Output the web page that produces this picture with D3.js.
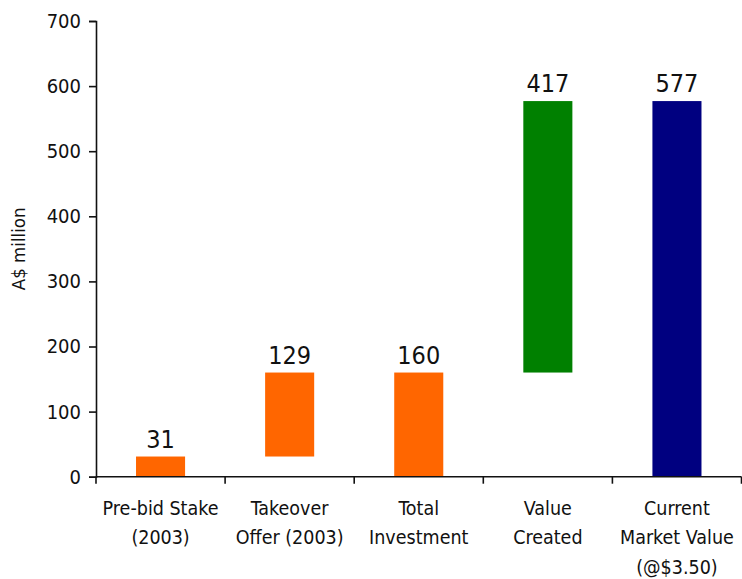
<!DOCTYPE html>
<html>
<head>
<meta charset="utf-8">
<script src="https://cdn.jsdelivr.net/npm/d3@7"></script>
<style>
  html, body { margin: 0; padding: 0; background: #fff; }
  svg text { font-family: "DejaVu Sans Condensed", "DejaVu Sans", sans-serif; fill: #111; }
</style>
</head>
<body>
<svg id="chart" width="742" height="579"></svg>
<script>
// Waterfall: each step has a base and a height (A$ million)
const categories = [
  ["Pre-bid Stake", "(2003)"],
  ["Takeover", "Offer (2003)"],
  ["Total", "Investment"],
  ["Value", "Created"],
  ["Current", "Market Value", "(@$3.50)"]
];
const bases = [0, 31, 0, 160, 0];
const values = [31, 129, 160, 417, 577];
const colors = ["#FF6600", "#FF6600", "#FF6600", "#008000", "#000080"];
const yTicks = [0, 100, 200, 300, 400, 500, 600, 700];

const svg = d3.select("#chart");
const margin = { left: 96, right: 0, top: 21, bottom: 102 };
const W = 742, H = 579;

const x = d3.scaleBand()
  .domain(d3.range(categories.length))
  .range([margin.left, W - 0.5])
  .paddingInner(0).paddingOuter(0);

const y = d3.scaleLinear().domain([0, 700]).range([H - margin.bottom - 0.3, margin.top]);

// bars
const barW = x.bandwidth() * 0.38;
svg.append("g").selectAll("rect")
  .data(values)
  .join("rect")
  .attr("x", (d, i) => x(i) + (x.bandwidth() - barW) / 2)
  .attr("width", barW)
  .attr("y", (d, i) => y(bases[i] + d))
  .attr("height", (d, i) => y(bases[i]) - y(bases[i] + d))
  .attr("fill", (d, i) => colors[i]);

// value labels
svg.append("g").selectAll("text")
  .data(values)
  .join("text")
  .attr("x", (d, i) => x(i) + x.bandwidth() / 2)
  .attr("y", (d, i) => y(bases[i] + d) - 9)
  .attr("text-anchor", "middle")
  .style("font-size", "25px")
  .text(d => d);

// y axis
const yAxis = d3.axisLeft(y).tickValues(yTicks).tickSize(7).tickPadding(8);
const gy = svg.append("g").attr("transform", `translate(${margin.left},0)`).call(yAxis);
gy.select(".domain").attr("stroke", "#111").attr("stroke-width", 1.6);
gy.selectAll(".tick line").attr("stroke", "#111").attr("stroke-width", 1.6);
gy.selectAll(".tick text").style("font-size", "20px").attr("fill", "#111");

// x axis: ticks on band boundaries
const y0 = y(0);
const gx = svg.append("g");
gx.append("line")
  .attr("x1", margin.left).attr("x2", W - 0.5)
  .attr("y1", y0).attr("y2", y0)
  .attr("stroke", "#111").attr("stroke-width", 1.6);
gx.selectAll("line.tk")
  .data(d3.range(categories.length + 1))
  .join("line")
  .attr("class", "tk")
  .attr("x1", i => i < categories.length ? x(i) : x(i - 1) + x.bandwidth())
  .attr("x2", i => i < categories.length ? x(i) : x(i - 1) + x.bandwidth())
  .attr("y1", y0).attr("y2", y0 + 7)
  .attr("stroke", "#111").attr("stroke-width", 1.6);

// category labels
gx.selectAll("text.cat")
  .data(categories)
  .join("text")
  .attr("class", "cat")
  .attr("text-anchor", "middle")
  .style("font-size", "19.5px")
  .each(function (lines, i) {
    const t = d3.select(this);
    lines.forEach((ln, k) => {
      t.append("tspan")
        .attr("x", x(i) + x.bandwidth() / 2)
        .attr("y", y0 + 38 + k * 29.5)
        .text(ln);
    });
  });

// y axis title
svg.append("text")
  .attr("transform", `translate(25, ${(y(0) + y(700)) / 2}) rotate(-90)`)
  .attr("text-anchor", "middle")
  .style("font-size", "18.5px")
  .text("A$ million");
</script>
</body>
</html>
